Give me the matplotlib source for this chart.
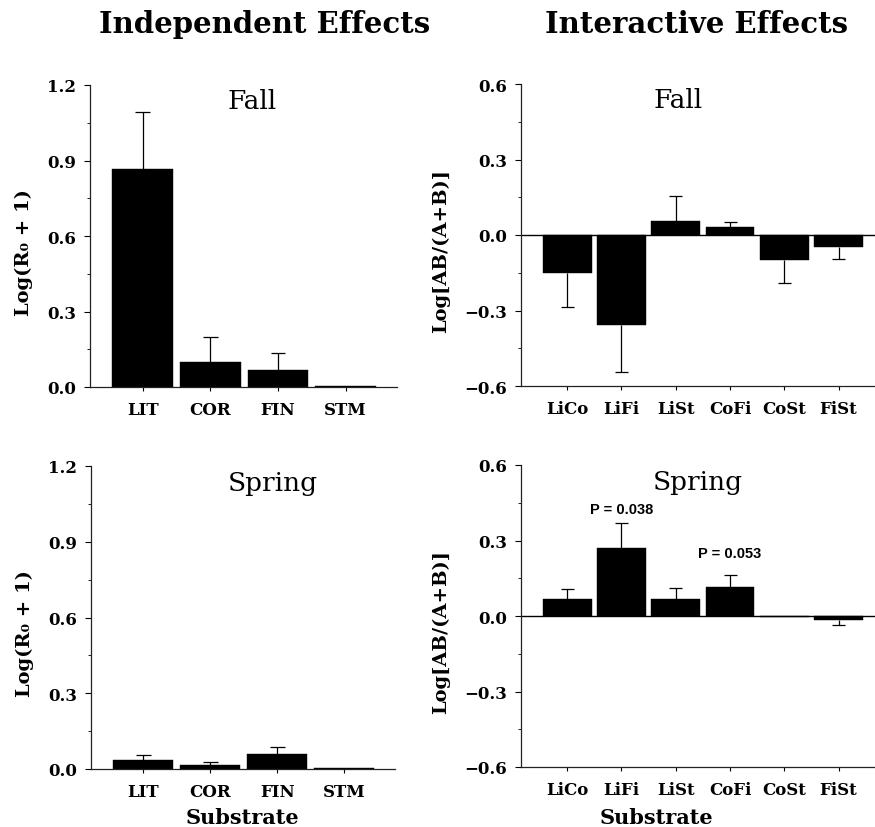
import matplotlib
matplotlib.use("Agg")
import matplotlib.pyplot as plt
import numpy as np

# ---------------- data ----------------
ind_cats = ["LIT", "COR", "FIN", "STM"]
ind_fall = [0.865, 0.100, 0.069, 0.002]
ind_fall_se = [0.228, 0.097, 0.067, 0.0]
ind_spring = [0.037, 0.016, 0.059, 0.003]
ind_spring_se = [0.018, 0.010, 0.027, 0.0]

int_cats = ["LiCo", "LiFi", "LiSt", "CoFi", "CoSt", "FiSt"]
int_fall = [-0.150, -0.357, 0.057, 0.033, -0.098, -0.046]
int_fall_se = [0.136, 0.188, 0.099, 0.017, 0.092, 0.049]
int_spring = [0.066, 0.271, 0.069, 0.117, -0.005, -0.017]
int_spring_se = [0.040, 0.097, 0.044, 0.044, 0.0, 0.020]

p_labels = ["P = 0.038", "P = 0.053"]
p_cats = ["LiFi", "CoFi"]
p_y = [0.411, 0.233]

ind_ticks = [0.0, 0.3, 0.6, 0.9, 1.2]
int_ticks = [-0.6, -0.3, 0.0, 0.3, 0.6]

# ---------------- style ----------------
W, H = 875, 828
DPI = 100
SERIF = ["DejaVu Serif"]
plt.rcParams["font.family"] = SERIF
plt.rcParams["axes.unicode_minus"] = True

fig = plt.figure(figsize=(W / DPI, H / DPI), dpi=DPI)


def px_axes(left, top, right, bottom):
    return fig.add_axes([left / W, 1 - bottom / H, (right - left) / W, (bottom - top) / H])


def fmt_tick(v):
    s = f"{abs(v):.1f}"
    return ("\u2212" + s) if v < 0 else s


def style_axes(ax, yticks):
    for s in ["top", "right"]:
        ax.spines[s].set_visible(False)
    for s in ["left", "bottom"]:
        ax.spines[s].set_linewidth(0.9)
        ax.spines[s].set_color("#222222")
    ax.set_ylim(yticks[0], yticks[-1])
    ax.set_yticks(yticks)
    ax.set_yticklabels([fmt_tick(v) for v in yticks], fontsize=12, fontweight="bold")
    minors = [(a + b) / 2 for a, b in zip(yticks[:-1], yticks[1:])]
    ax.set_yticks(minors, minor=True)
    ax.tick_params(axis="y", which="major", direction="out", length=4, width=0.8, pad=6)
    ax.tick_params(axis="y", which="minor", direction="out", length=2, width=0.6)
    ax.tick_params(axis="x", which="major", direction="out", length=3, width=0.8, pad=7)


def draw_bars(ax, cats, vals, errs, cap_half):
    x = np.arange(len(cats))
    ax.bar(x, vals, width=0.9, color="black", edgecolor="black", linewidth=0.3, zorder=2)
    vals = np.asarray(vals)
    errs = np.asarray(errs)
    m = errs > 0
    ends = np.where(vals < 0, vals - errs, vals + errs)
    ax.vlines(x[m], vals[m], ends[m], color="black", lw=0.9, zorder=3)
    ax.hlines(ends[m], x[m] - cap_half, x[m] + cap_half, color="black", lw=0.9, zorder=3)
    ax.set_xticks(x)
    ax.set_xticklabels(cats, fontsize=12, fontweight="bold")


# ---------------- axes ----------------
ax_tl = px_axes(90, 86, 397, 388)
ax_tr = px_axes(521, 85, 875, 387)
ax_bl = px_axes(91, 467, 395, 770)
ax_br = px_axes(521, 466, 875, 768)

for ax, vals, errs in [(ax_tl, ind_fall, ind_fall_se), (ax_bl, ind_spring, ind_spring_se)]:
    draw_bars(ax, ind_cats, vals, errs, cap_half=0.11)
    style_axes(ax, ind_ticks)
    ax.set_xlim(-0.78, 3.76)
    ax.set_ylabel("Log(R\u2080 + 1)", fontsize=14, fontweight="bold")
    ax.yaxis.set_label_coords(-0.186, 0.45)

for ax, vals, errs in [(ax_tr, int_fall, int_fall_se), (ax_br, int_spring, int_spring_se)]:
    draw_bars(ax, int_cats, vals, errs, cap_half=0.12)
    style_axes(ax, int_ticks)
    ax.axhline(0, color="black", lw=1.0, zorder=1)
    ax.set_xlim(-0.85, 5.67)
    ax.set_ylabel("Log[AB/(A+B)]", fontsize=14, fontweight="bold")
    ax.yaxis.set_label_coords(-0.2, 0.45)

# P-value annotations
for lab, cat, yv in zip(p_labels, p_cats, p_y):
    ax_br.text(int_cats.index(cat), yv, lab, ha="center", va="baseline",
               fontsize=10.5, fontweight="bold", family=["Liberation Sans", "DejaVu Sans"])

# Panel titles (pixel positions, baseline)
def ftext(xp, yp, s, **kw):
    fig.text(xp / W, 1 - yp / H, s, **kw)

ftext(252, 109, "Fall", ha="center", va="baseline", fontsize=19)
ftext(678, 108, "Fall", ha="center", va="baseline", fontsize=19)
ftext(273, 491, "Spring", ha="center", va="baseline", fontsize=19)
ftext(698, 490, "Spring", ha="center", va="baseline", fontsize=19)

ftext(265, 33, "Independent Effects", ha="center", va="baseline", fontsize=21, fontweight="bold")
ftext(697, 33, "Interactive Effects", ha="center", va="baseline", fontsize=21, fontweight="bold")

ftext(242, 824, "Substrate", ha="center", va="baseline", fontsize=15, fontweight="bold")
ftext(656, 824, "Substrate", ha="center", va="baseline", fontsize=15, fontweight="bold")

fig.savefig("out.png", dpi=DPI, facecolor="white")
